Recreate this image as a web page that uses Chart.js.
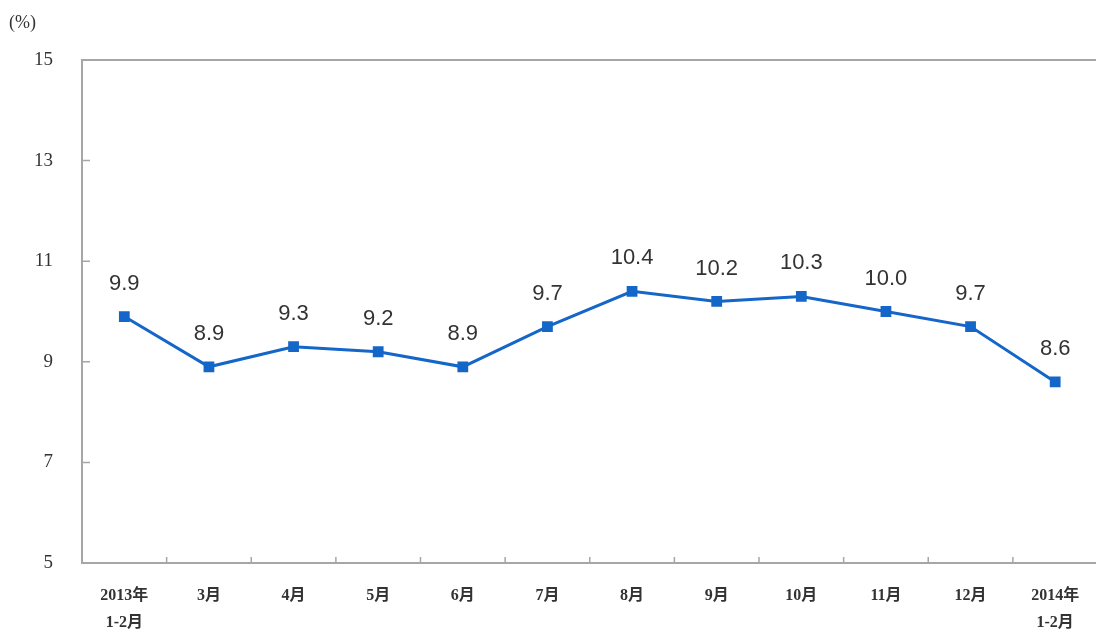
<!DOCTYPE html>
<html>
<head>
<meta charset="utf-8">
<script src="https://cdn.jsdelivr.net/npm/chart.js@4.4.1/dist/chart.umd.min.js"></script>
<style>
  html, body { margin: 0; padding: 0; background: #fff; overflow: hidden; }
  #wrap { width: 1106px; height: 633px; }
</style>
</head>
<body>
<div id="wrap"><canvas id="c"></canvas></div>
<script>
// 数据
const months = [
  ["2013年", "1-2月"], "3月", "4月", "5月", "6月", "7月",
  "8月", "9月", "10月", "11月", "12月", ["2014年", "1-2月"]
]
const growth = [9.9, 8.9, 9.3, 9.2, 8.9, 9.7, 10.4, 10.2, 10.3, 10.0, 9.7, 8.6]
const yTicks = [5, 7, 9, 11, 13, 15]

const serif = "'Liberation Serif', 'Noto Sans CJK SC', serif"

// 边框、内向刻度、数值标签
const decor = {
  id: "decor",
  afterDraw(chart) {
    const { ctx, chartArea: a, scales } = chart
    ctx.save()
    ctx.strokeStyle = "#a6a6a6"
    ctx.lineWidth = 2
    ctx.strokeRect(a.left, a.top, a.right - a.left, a.bottom - a.top)

    ctx.lineWidth = 1.5
    ctx.beginPath()
    yTicks.forEach((v) => {
      const y = scales.y.getPixelForValue(v)
      ctx.moveTo(a.left, y)
      ctx.lineTo(a.left + 8, y)
    })
    for (let i = 1; i < months.length; i++) {
      const x = (scales.x.getPixelForValue(i - 1) + scales.x.getPixelForValue(i)) / 2
      ctx.moveTo(x, a.bottom)
      ctx.lineTo(x, a.bottom - 6)
    }
    ctx.stroke()

    ctx.fillStyle = "#333"
    ctx.font = "22px 'Liberation Sans', Arial, sans-serif"
    ctx.textAlign = "center"
    ctx.textBaseline = "middle"
    const meta = chart.getDatasetMeta(0)
    meta.data.forEach((pt, i) => {
      ctx.fillText(growth[i].toFixed(1), pt.x, pt.y - 33)
    })

    ctx.font = "18px " + serif
    ctx.fillStyle = "#333"
    ctx.textAlign = "left"
    ctx.fillText("(%)", 9, 23)
    ctx.restore()
  }
}

new Chart(document.getElementById("c"), {
  type: "line",
  data: {
    labels: months,
    datasets: [{
      data: growth,
      borderColor: "#1466c8",
      backgroundColor: "#1466c8",
      borderWidth: 3,
      pointStyle: "rect",
      pointRadius: 5.5,
      tension: 0
    }]
  },
  options: {
    responsive: true,
    maintainAspectRatio: false,
    animation: false,
    layout: { padding: { top: 60, right: 0, bottom: 0, left: 0 } },
    plugins: { legend: { display: false }, tooltip: { enabled: false } },
    scales: {
      x: {
        offset: true,
        grid: { display: false },
        border: { display: false },
        ticks: {
          color: "#333",
          font: { family: serif, size: 16, weight: "bold", lineHeight: 1.65 },
          padding: 12,
          maxRotation: 0,
          autoSkip: false
        },
        afterFit(s) { s.height = 70 }
      },
      y: {
        min: 5,
        max: 15,
        afterBuildTicks(s) { s.ticks = yTicks.map((v) => ({ value: v })) },
        grid: { display: false },
        border: { display: false },
        ticks: {
          color: "#333",
          font: { family: serif, size: 19 },
          padding: 21
        },
        afterFit(s) { s.width = 82 }
      }
    }
  },
  plugins: [decor]
})
</script>
</body>
</html>
